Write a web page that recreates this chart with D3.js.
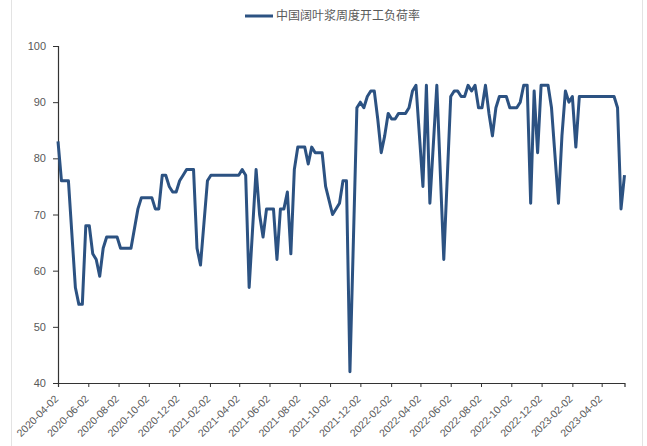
<!DOCTYPE html>
<html>
<head>
<meta charset="utf-8">
<script src="https://cdn.jsdelivr.net/npm/d3@7"></script>
<style>
  html, body { margin: 0; padding: 0; background: #fff; }
  svg { display: block; }
</style>
</head>
<body>
<div id="chart"></div>
<script>
const seriesName = "中国阔叶浆周度开工负荷率";

const dates = [
  "2020-04-02","2020-04-09","2020-04-23","2020-05-07","2020-05-14","2020-05-21","2020-05-28","2020-06-04",
  "2020-06-11","2020-06-18","2020-06-25","2020-07-02","2020-07-09","2020-07-30","2020-08-06","2020-08-27",
  "2020-09-10","2020-09-17","2020-10-08","2020-10-15","2020-10-22","2020-10-29","2020-11-05","2020-11-12",
  "2020-11-19","2020-11-26","2020-12-03","2020-12-10","2020-12-17","2020-12-31","2021-01-07","2021-01-14",
  "2021-01-28","2021-02-04","2021-04-01","2021-04-08","2021-04-15","2021-04-22","2021-05-06","2021-05-13",
  "2021-05-20","2021-05-27","2021-06-10","2021-06-17","2021-06-24","2021-07-01","2021-07-08","2021-07-15",
  "2021-07-22","2021-07-29","2021-08-12","2021-08-19","2021-08-26","2021-09-02","2021-09-16","2021-09-23",
  "2021-10-07","2021-10-21","2021-10-28","2021-11-04","2021-11-11","2021-11-25","2021-12-02","2021-12-09",
  "2021-12-16","2021-12-23","2021-12-30","2022-01-06","2022-01-13","2022-01-20","2022-01-27","2022-02-03",
  "2022-02-10","2022-02-17","2022-03-03","2022-03-10","2022-03-17","2022-03-24","2022-04-07","2022-04-14",
  "2022-04-21","2022-05-05","2022-05-19","2022-06-02","2022-06-09","2022-06-16","2022-06-23","2022-06-30",
  "2022-07-07","2022-07-14","2022-07-21","2022-07-28","2022-08-04","2022-08-11","2022-08-18","2022-08-25",
  "2022-09-01","2022-09-08","2022-09-22","2022-09-29","2022-10-13","2022-10-20","2022-10-27","2022-11-03",
  "2022-11-10","2022-11-17","2022-11-24","2022-12-01","2022-12-15","2022-12-22","2023-01-05","2023-01-12",
  "2023-01-19","2023-01-26","2023-02-02","2023-02-09","2023-02-16","2023-04-27","2023-05-04","2023-05-11",
  "2023-05-18"
];

const values = [
  83,76,76,57,54,54,68,68,
  63,62,59,64,66,66,64,64,
  71,73,73,71,71,77,77,75,
  74,74,76,77,78,78,64,61,
  76,77,77,78,77,57,78,70,
  66,71,71,62,71,71,74,63,
  78,82,82,79,82,81,81,75,
  70,72,76,76,42,89,90,89,
  91,92,92,87,81,84,88,87,
  87,88,88,89,92,93,75,93,
  72,93,62,91,92,92,91,91,
  93,92,93,89,89,93,88,84,
  89,91,91,89,89,90,93,93,
  72,92,81,93,93,89,72,84,
  92,90,91,82,91,91,89,71,
  77
];

const yTicks = [40, 50, 60, 70, 80, 90, 100];
const xTickLabels = [
  "2020-04-02","2020-06-02","2020-08-02","2020-10-02","2020-12-02",
  "2021-02-02","2021-04-02","2021-06-02","2021-08-02","2021-10-02","2021-12-02",
  "2022-02-02","2022-04-02","2022-06-02","2022-08-02","2022-10-02","2022-12-02",
  "2023-02-02","2023-04-02"
];

const W = 647, H = 446;
const margin = { left: 58, right: 22.5, top: 46, bottom: 63 };
const parse = d3.timeParse("%Y-%m-%d");
const data = dates.map((d, i) => ({ date: parse(d), value: values[i] }));

const svg = d3.select("#chart").append("svg")
  .attr("width", W).attr("height", H);

// chart area border lines (light gray)
svg.append("line").attr("x1", 11.5).attr("x2", 11.5).attr("y1", 0).attr("y2", H)
  .attr("stroke", "#e3e3e3").attr("stroke-width", 1);
svg.append("line").attr("x1", 642.5).attr("x2", 642.5).attr("y1", 0).attr("y2", H)
  .attr("stroke", "#e3e3e3").attr("stroke-width", 1);

const x = d3.scaleTime()
  .domain([parse(dates[0]), parse(dates[dates.length - 1])])
  .range([margin.left, W - margin.right]);
const y = d3.scaleLinear()
  .domain([40, 100])
  .range([H - margin.bottom, margin.top]);

// y axis
const yAxis = svg.append("g")
  .attr("transform", `translate(${margin.left},0)`)
  .call(d3.axisLeft(y).tickValues(yTicks).tickSize(5).tickPadding(7).tickFormat(d3.format("d")));
yAxis.select(".domain").attr("stroke", "#333").attr("stroke-width", 1.2);
yAxis.selectAll(".tick line").attr("stroke", "#333");
yAxis.selectAll("text").attr("fill", "#595959").style("font-family", "'Liberation Sans', Arial, sans-serif").style("font-size", "11px");

// x axis
const xAxis = svg.append("g")
  .attr("transform", `translate(0,${H - margin.bottom})`)
  .call(d3.axisBottom(x).tickValues(xTickLabels.map(parse)).tickSize(4).tickFormat(d3.timeFormat("%Y-%m-%d")));
xAxis.select(".domain").attr("stroke", "#333").attr("stroke-width", 1.2);
xAxis.selectAll(".tick line").attr("stroke", "#333");
xAxis.selectAll("text")
  .attr("fill", "#595959")
  .style("font-family", "'Liberation Sans', Arial, sans-serif")
  .style("font-size", "10.5px")
  .attr("text-anchor", "end")
  .attr("x", 0).attr("y", 0).attr("dy", "0.35em")
  .attr("transform", "translate(-2,14) rotate(-45)");

// line
const line = d3.line()
  .x(d => x(d.date))
  .y(d => y(d.value));
svg.append("path")
  .datum(data)
  .attr("fill", "none")
  .attr("stroke", "#2c5282")
  .attr("stroke-width", 3)
  .attr("stroke-linejoin", "round")
  .attr("d", line);

// legend
const lg = svg.append("g").attr("transform", "translate(245,16)");
lg.append("line").attr("x1", 0).attr("x2", 28).attr("y1", 0).attr("y2", 0)
  .attr("stroke", "#2c5282").attr("stroke-width", 3);
lg.append("text").attr("x", 31).attr("y", 0).attr("dy", "0.35em")
  .attr("fill", "#595959")
  .style("font-family", "'Noto Sans CJK SC', sans-serif")
  .style("font-size", "12px")
  .text(seriesName);
</script>
</body>
</html>
